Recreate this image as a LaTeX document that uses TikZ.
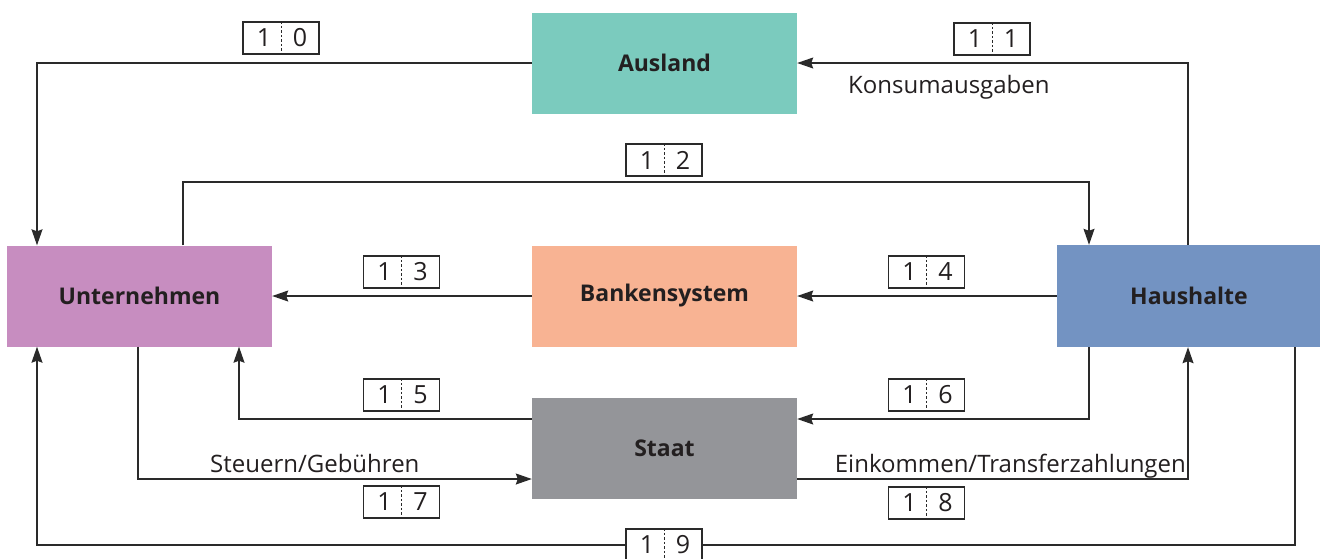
\documentclass[tikz,border=0pt]{standalone}
\usepackage{fontspec}
\setmainfont{Open Sans}
\usetikzlibrary{arrows.meta}
\definecolor{ausc}{HTML}{7BCBBE}
\definecolor{untc}{HTML}{C78DC0}
\definecolor{bankc}{HTML}{F8B393}
\definecolor{hauc}{HTML}{7393C2}
\definecolor{staatc}{HTML}{949599}
\definecolor{txtc}{HTML}{231F20}
\definecolor{linec}{HTML}{2A2A2A}
\tikzset{
  sector/.style={rectangle, inner sep=0, minimum width=265, minimum height=101,
    text=txtc, font=\bfseries\fontsize{23}{27}\selectfont},
  flow/.style={draw=linec, line width=1.3pt, -{Stealth[length=16pt,width=11pt,inset=2pt]}},
  numbox/.style={draw=linec, line width=1.1pt, fill=white, minimum width=76, minimum height=32,
    inner sep=0, text=txtc, font=\fontsize{25}{29}\selectfont},
  divider/.style={draw=linec, line width=0.9pt, dash pattern=on 2.5pt off 2pt},
  flowtext/.style={inner sep=0, text=txtc, font=\fontsize{24}{28}\selectfont}
}
\newcommand\nbox[3]{%
  \node[numbox] (#1) at (#2) {\makebox[38pt]{1}\makebox[34pt]{#3}\hspace{4pt}};
  \draw[divider] (#1.north) -- (#1.south);}
\begin{document}
\begin{tikzpicture}[x=1pt,y=-1pt]
\useasboundingbox (0,0) rectangle (1320,558);
% sectors
\node[sector, fill=ausc] (aus) at (664.5,63) {Ausland};
\node[sector, fill=untc] (unt) at (139.5,296) {Unternehmen};
\node[sector, fill=bankc] (bank) at (664.5,296) {Bankensystem};
\node[sector, fill=hauc, minimum width=264, minimum height=102] (hau) at (1189,296) {Haushalte};
\node[sector, fill=staatc] (staat) at (664.5,448.5) {Staat};
% guide coordinates
\coordinate (xA) at (37,0);
\coordinate (xB) at (138,0);
\coordinate (xC) at (183,0);
\coordinate (xD) at (239,0);
\coordinate (xE) at (1089,0);
\coordinate (xF) at (1188,0);
\coordinate (xG) at (1295,0);
\coordinate (y12) at (0,182);
\coordinate (y15) at (0,419);
\coordinate (y17) at (0,479);
\coordinate (y19) at (0,545);
% connectors
\draw[flow] (aus.west) -| (unt.north -| xA);
\draw[flow] (hau.north -| xF) |- (aus.east);
\draw[flow] (unt.north -| xC) -- (xC |- y12) -- (xE |- y12) -- (hau.north -| xE);
\draw[flow] (bank.west) -- (unt.east);
\draw[flow] (hau.west) -- (bank.east);
\draw[flow] (staat.west |- y15) -| (unt.south -| xD);
\draw[flow] (hau.south -| xE) |- (staat.east |- y15);
\draw[flow] (unt.south -| xB) |- (staat.west |- y17);
\draw[flow] (staat.east |- y17) -| (hau.south -| xF);
\draw[flow] (hau.south -| xG) -- (xG |- y19) -- (xA |- y19) -- (unt.south -| xA);
% flow texts
\node[flowtext, anchor=base west] (tkons) at (848,93) {Konsumausgaben};
\node[flowtext, anchor=base west] (tsteu) at (210,472) {Steuern/Gebühren};
\node[flowtext, anchor=base east] (teink) at (1186,472) {Einkommen/Transferzahlungen};
% number boxes
\nbox{b10}{281,38}{0}
\nbox{b11}{992,39}{1}
\nbox{b12}{664,160}{2}
\nbox{b13}{401.5,272}{3}
\nbox{b14}{926.5,272}{4}
\nbox{b15}{401.5,395}{5}
\nbox{b16}{926.5,395}{6}
\nbox{b17}{401.5,502}{7}
\nbox{b18}{926.5,503}{8}
\nbox{b19}{664,545}{9}
\end{tikzpicture}
\end{document}
